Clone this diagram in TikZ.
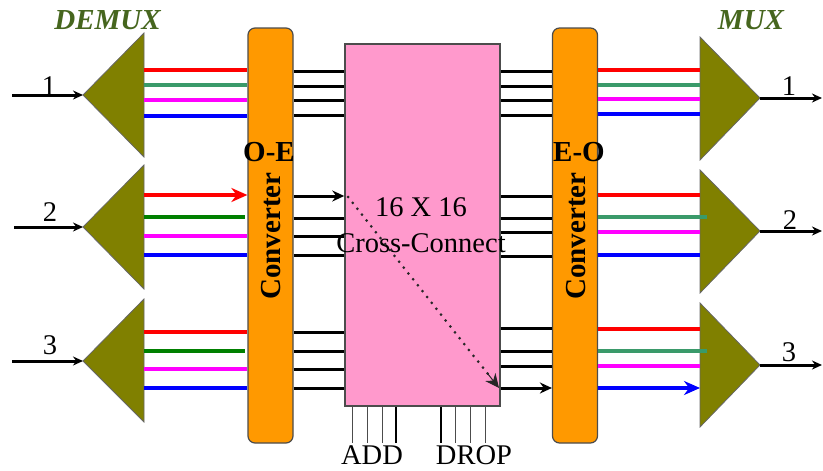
\documentclass[tikz,border=0pt]{standalone}
\usepackage{fontspec}
\setmainfont{Liberation Serif}
\usetikzlibrary{arrows.meta,calc}

\definecolor{sigred}{HTML}{FF0000}
\definecolor{sigteal}{HTML}{3A9A6A}
\definecolor{siggreen}{HTML}{008000}
\definecolor{sigmag}{HTML}{FF00FF}
\definecolor{sigblue}{HTML}{0000FF}
\definecolor{convorange}{HTML}{FF9900}
\definecolor{xcpink}{HTML}{FF99CC}
\definecolor{triolive}{HTML}{808000}
\definecolor{labgreen}{HTML}{46661E}

\tikzset{
  conv/.style={draw=black!70, line width=1.2pt, fill=convorange, rounded corners=7pt,
    minimum width=45pt, minimum height=415pt, inner sep=0pt},
  xcbox/.style={draw=black!70, line width=1.5pt, fill=xcpink,
    minimum width=155pt, minimum height=362pt, inner sep=0pt},
  tri/.style={fill=triolive, draw=black!60, line width=0.8pt},
  fib/.style={line width=4pt},
  wire/.style={line width=3pt},
  pin/.style={line width=1pt, black!70},
  pinthick/.style={line width=2.5pt},
  bigtxt/.style={font=\fontsize{28.5}{36}\selectfont, inner sep=0pt},
  boldtxt/.style={font=\fontsize{29}{34}\selectfont\bfseries, inner sep=0pt},
  muxtxt/.style={font=\fontsize{29}{34}\selectfont\bfseries\itshape, text=labgreen, inner sep=0pt},
  bigtip/.style={-{Stealth[length=16pt,width=14pt]}}
}

\begin{document}
\begin{tikzpicture}[x=1pt, y=-1pt, >={Stealth[length=12pt,width=11pt]}]
\useasboundingbox (0,0) rectangle (823,471);

% demultiplexers
\coordinate (dm1) at (144,95);
\coordinate (dm2) at (144,227);
\coordinate (dm3) at (144,361);
\filldraw[tri] (83,95) -- (144,33) -- (144,157) -- cycle;
\filldraw[tri] (83,227) -- (144,165) -- (144,289) -- cycle;
\filldraw[tri] (83,361) -- (144,299) -- (144,422) -- cycle;
\node[muxtxt] (demux) at (107.5,20) {DEMUX};

% multiplexers
\coordinate (mx1) at (700,98);
\coordinate (mx2) at (700,231);
\coordinate (mx3) at (700,365);
\filldraw[tri] (760,98) -- (700,37) -- (700,160) -- cycle;
\filldraw[tri] (760,231) -- (700,170) -- (700,293) -- cycle;
\filldraw[tri] (760,365) -- (700,303) -- (700,427) -- cycle;
\node[muxtxt] (mux) at (751,20) {MUX};

% converters and the switch
\node[conv] (oe) at (270.5,235.5) {};
\node[conv] (eo) at (575,235.5) {};
\node[xcbox] (xc) at (422.5,225) {};

\node[boldtxt] (oelab) at (269,152) {O-E};
\node[boldtxt] (eolab) at (579,152) {E-O};
\node[boldtxt, rotate=90] (oetxt) at (271.5,236) {Converter};
\node[boldtxt, rotate=90] (eotxt) at (576.5,236) {Converter};
\node[bigtxt, align=center] (xctxt) at (421,225.5) {16 X 16\\Cross-Connect};

% input and output fibres
\coordinate (in1) at (12,95);
\coordinate (in2) at (14,227);
\coordinate (in3) at (12,361);
\coordinate (out1) at (822,98);
\coordinate (out2) at (822,231);
\coordinate (out3) at (822,365);
\draw[wire, ->, >={Stealth[length=10pt,width=9pt]}] (in1) -- (83,95);
\draw[wire, ->, >={Stealth[length=10pt,width=9pt]}] (in2) -- (83,227);
\draw[wire, ->, >={Stealth[length=10pt,width=9pt]}] (in3) -- (83,361);
\draw[wire, ->, >={Stealth[length=10pt,width=9pt]}] (760,98) -- (out1);
\draw[wire, ->, >={Stealth[length=10pt,width=9pt]}] (760,231) -- (out2);
\draw[wire, ->, >={Stealth[length=10pt,width=9pt]}] (760,365) -- (out3);
\node[bigtxt] (n1) at (49,86) {1};
\node[bigtxt] (n2) at (50,212) {2};
\node[bigtxt] (n3) at (50,345) {3};
\node[bigtxt] (m1) at (789,86) {1};
\node[bigtxt] (m2) at (790,220) {2};
\node[bigtxt] (m3) at (789,352) {3};

% wavelengths into O-E
\draw[fib, sigred] (dm1 |- 0,70) -- (oe.west |- 0,70);
\draw[fib, sigteal] (dm1 |- 0,85) -- (oe.west |- 0,85);
\draw[fib, sigmag] (dm1 |- 0,100) -- (oe.west |- 0,100);
\draw[fib, sigblue] (dm1 |- 0,116) -- (oe.west |- 0,116);
\draw[fib, sigred, bigtip] (dm2 |- 0,195) -- (oe.west |- 0,195);
\draw[fib, siggreen, shorten >=2pt] (dm2 |- 0,217) -- (oe.west |- 0,217);
\draw[fib, sigmag] (dm2 |- 0,236) -- (oe.west |- 0,236);
\draw[fib, sigblue] (dm2 |- 0,255) -- (oe.west |- 0,255);
\draw[fib, sigred] (dm3 |- 0,332) -- (oe.west |- 0,332);
\draw[fib, siggreen, shorten >=2pt] (dm3 |- 0,351) -- (oe.west |- 0,351);
\draw[fib, sigmag] (dm3 |- 0,369) -- (oe.west |- 0,369);
\draw[fib, sigblue] (dm3 |- 0,388) -- (oe.west |- 0,388);

% electrical ports into the switch
\draw[wire] (oe.east |- 0,71) -- (xc.west |- 0,71)
  (oe.east |- 0,86) -- (xc.west |- 0,86)
  (oe.east |- 0,100) -- (xc.west |- 0,100)
  (oe.east |- 0,115) -- (xc.west |- 0,115);
\draw[wire, ->] (oe.east |- 0,196) -- (xc.west |- 0,196);
\draw[wire] (oe.east |- 0,218) -- (xc.west |- 0,218)
  (oe.east |- 0,236) -- (xc.west |- 0,236)
  (oe.east |- 0,255) -- (xc.west |- 0,255);
\draw[wire] (oe.east |- 0,332) -- (xc.west |- 0,332)
  (oe.east |- 0,351) -- (xc.west |- 0,351)
  (oe.east |- 0,369) -- (xc.west |- 0,369)
  (oe.east |- 0,388) -- (xc.west |- 0,388);

% electrical ports out of the switch
\draw[wire] (xc.east |- 0,71) -- (eo.west |- 0,71)
  (xc.east |- 0,86) -- (eo.west |- 0,86)
  (xc.east |- 0,100) -- (eo.west |- 0,100)
  (xc.east |- 0,115) -- (eo.west |- 0,115);
\draw[wire] (xc.east |- 0,196) -- (eo.west |- 0,196)
  (xc.east |- 0,218) -- (eo.west |- 0,218)
  (xc.east |- 0,232) -- (eo.west |- 0,232)
  (xc.east |- 0,256) -- (eo.west |- 0,256);
\draw[wire] (xc.east |- 0,328) -- (eo.west |- 0,328)
  (xc.east |- 0,351) -- (eo.west |- 0,351)
  (xc.east |- 0,366) -- (eo.west |- 0,366);
\draw[wire, ->] (xc.east |- 0,388) -- (eo.west |- 0,388);

% path through the switch
\coordinate (xin) at (348,197);
\coordinate (xout) at (499,388);
\draw[line width=3pt, line cap=round, dash pattern=on 0pt off 7.5pt, black!85]
  (xin) -- ($(xin)!0.93!(xout)$);
\draw[black!85, line width=1pt, -{Stealth[length=14pt,width=13pt]}]
  ($(xin)!0.92!(xout)$) -- (xout);

% wavelengths out of E-O
\draw[fib, sigred] (eo.east |- 0,70) -- (mx1 |- 0,70);
\draw[fib, sigteal] (eo.east |- 0,85) -- (mx1 |- 0,85);
\draw[fib, sigmag] (eo.east |- 0,99) -- (mx1 |- 0,99);
\draw[fib, sigblue] (eo.east |- 0,114) -- (mx1 |- 0,114);
\draw[fib, sigred] (eo.east |- 0,195) -- (mx2 |- 0,195);
\draw[fib, sigteal, shorten >=-7pt] (eo.east |- 0,217) -- (mx2 |- 0,217);
\draw[fib, sigmag] (eo.east |- 0,232) -- (mx2 |- 0,232);
\draw[fib, sigblue] (eo.east |- 0,255) -- (mx2 |- 0,255);
\draw[fib, sigred] (eo.east |- 0,329) -- (mx3 |- 0,329);
\draw[fib, sigteal, shorten >=-7pt] (eo.east |- 0,351) -- (mx3 |- 0,351);
\draw[fib, sigmag] (eo.east |- 0,366) -- (mx3 |- 0,366);
\draw[fib, sigblue, bigtip] (eo.east |- 0,388) -- (mx3 |- 0,388);

% add and drop ports
\node[bigtxt] (add) at (372,455) {ADD};
\node[bigtxt] (drop) at (474,455) {DROP};
\draw[pin] (xc.south -| 352,0) -- (352,443);
\draw[pin] (xc.south -| 367,0) -- (367,443);
\draw[pin] (xc.south -| 382,0) -- (382,443);
\draw[pinthick] (xc.south -| 396,0) -- (396,443);
\draw[pinthick] (xc.south -| 441,0) -- (441,443);
\draw[pin] (xc.south -| 455,0) -- (455,443);
\draw[pin] (xc.south -| 470,0) -- (470,443);
\draw[pin] (xc.south -| 485,0) -- (485,443);
\end{tikzpicture}
\end{document}
